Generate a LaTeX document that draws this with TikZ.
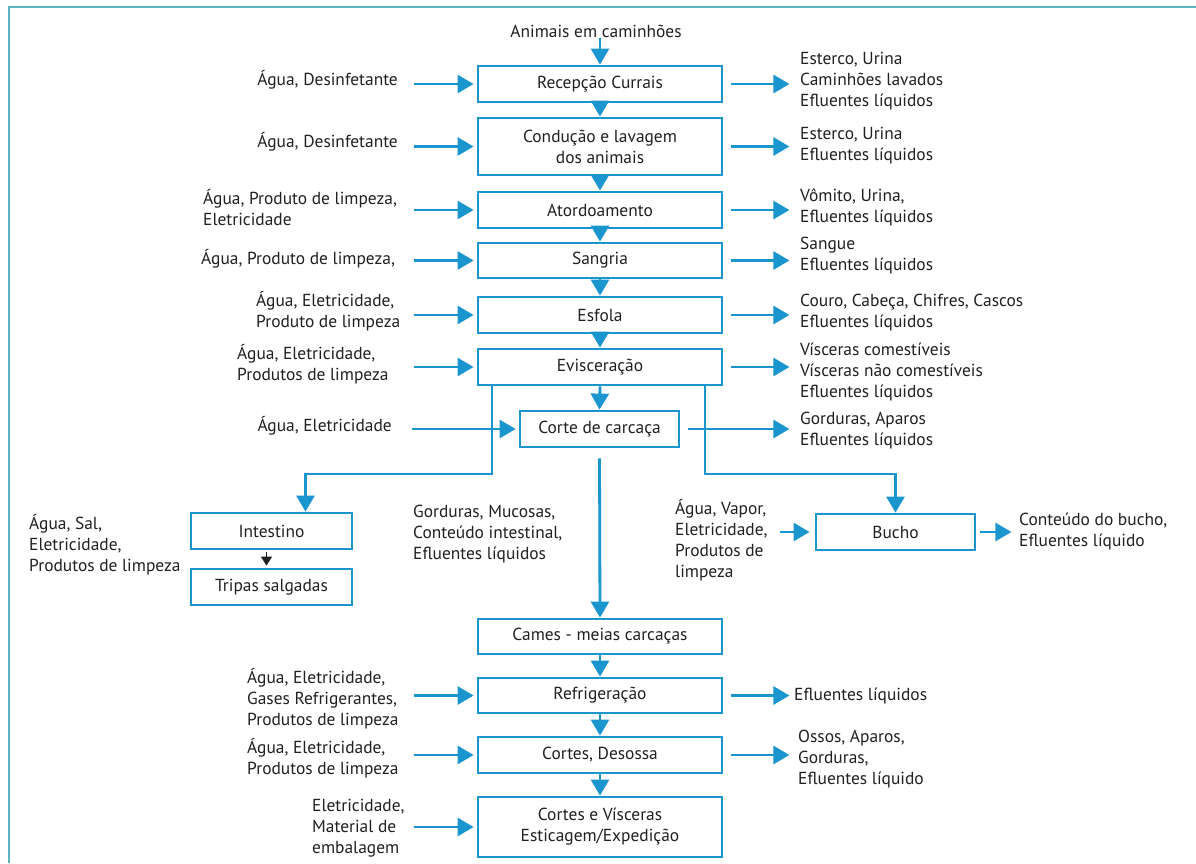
\documentclass[tikz,border=0pt]{standalone}
\usepackage{fontspec}
\setmainfont{PT Sans}
\usetikzlibrary{arrows.meta}
\definecolor{flow}{HTML}{1A95CE}
\definecolor{framecol}{HTML}{5AB4C0}
\definecolor{ink}{HTML}{231F20}

\begin{document}
\begin{tikzpicture}[x=1pt,y=-1pt,
  every node/.style={font=\fontsize{17.4}{21}\selectfont, text=ink, inner sep=0pt},
  proc/.style={draw=flow, line width=2.8pt, minimum width=244pt, minimum height=36pt, align=center},
  txt/.style={align=left},
  flowarr/.style={draw=flow, line width=2.8pt, -{Triangle[length=16pt,width=18pt]}},
  tinyarr/.style={draw=ink, line width=1.6pt, -{Triangle[length=9pt,width=11pt]}},
]
\useasboundingbox (0,0) rectangle (1196,863);

% outer frame (open to the right and bottom)
\draw[framecol, line width=1.4pt] (9,863) -- (9,7) -- (1196,7);

% process boxes
\node (src) at (596,31) {Animais em caminhões};
\node[proc] (rec) at (600,84) {Recepção Currais};
\node[proc, minimum height=57pt] (cond) at (600,146.5) {Condução e lavagem\\dos animais};
\node[proc] (ator) at (600,210) {Atordoamento};
\node[proc, minimum height=35pt] (sang) at (600,260.5) {Sangria};
\node[proc] (esf) at (600,315) {Esfola};
\node[proc] (evis) at (600,367) {Evisceração};
\node[proc, minimum width=159pt] (corte) at (599.5,429) {Corte de carcaça};
\node[proc, minimum width=161pt] (intest) at (271.5,531) {Intestino};
\node[proc, minimum width=161pt] (tripas) at (271.5,587) {Tripas salgadas};
\node[proc, minimum width=159pt] (bucho) at (895.5,532) {Bucho};
\node[proc, minimum height=35pt] (carnes) at (600,636.5) {Cames - meias carcaças};
\node[proc, minimum height=35pt] (refri) at (600,695.5) {Refrigeração};
\node[proc] (desossa) at (600,755) {Cortes, Desossa};
\node[proc, minimum height=60pt] (exped) at (600,827) {Cortes e Vísceras\\Esticagem/Expedição};

% main flow
\draw[flowarr] (src.south -| rec.north) -- (rec.north);
\foreach \a/\b in {rec/cond, cond/ator, ator/sang, sang/esf, esf/evis, evis/corte, carnes/refri, refri/desossa, desossa/exped}
  \draw[flowarr] (\a.south) -- (\b.north);
\draw[flowarr] ([yshift=-10pt]corte.south) -- (carnes.north);

% side branches from evisceration
\coordinate (jl) at (492,474);
\coordinate (jr) at (705,474);
\draw[flowarr] (evis.south -| jl) -- (jl) -| ([xshift=34pt]intest.north);
\draw[flowarr] (evis.south -| jr) -- (jr) -| (bucho.north);
\draw[tinyarr, shorten <=2pt, shorten >=2pt] ([xshift=-5pt]intest.south) -- ([xshift=-5pt]tripas.north);

% inputs
\foreach \b in {rec,cond,ator,sang,esf,evis,refri,desossa,exped}
  \draw[flowarr] ([xshift=-63pt]\b.west) -- ([xshift=-3pt]\b.west);
\draw[flowarr] ([xshift=-107pt]corte.west) -- ([xshift=-3pt]corte.west);
\draw[flowarr] ([xshift=-35pt]bucho.west) -- ([xshift=-5pt]bucho.west);

% outputs
\foreach \b in {rec,cond,ator,sang,esf,evis,refri,desossa}
  \draw[flowarr] ([xshift=8pt]\b.east) -- ([xshift=66pt]\b.east);
\draw[flowarr] ([xshift=8pt]corte.east) -- ([xshift=109pt]corte.east);
\draw[flowarr] ([xshift=4pt]bucho.east) -- ([xshift=35pt]bucho.east);

% input labels
\node[anchor=east] (i1) at (398,80) {Água, Desinfetante};
\node[anchor=east] (i2) at (398,142) {Água, Desinfetante};
\node[txt, anchor=west] (i3) at (203,207.5) {Água, Produto de limpeza,\\Eletricidade};
\node[anchor=west] (i4) at (201,259) {Água, Produto de limpeza,};
\node[txt, anchor=west] (i5) at (256,311) {Água, Eletricidade,\\Produto de limpeza};
\node[txt, anchor=west] (i6) at (237,364) {Água, Eletricidade,\\Produtos de limpeza};
\node[anchor=east] (i7) at (392,426) {Água, Eletricidade};
\node[txt, anchor=west] (i8) at (29,544.5) {Água, Sal,\\Eletricidade,\\Produtos de limpeza};
\node[txt, anchor=west] (i9) at (675,540) {Água, Vapor,\\Eletricidade,\\Produtos de\\limpeza};
\node[txt, anchor=west] (i10) at (247,699) {Água, Eletricidade,\\Gases Refrigerantes,\\Produtos de limpeza};
\node[txt, anchor=west] (i11) at (247,758) {Água, Eletricidade,\\Produtos de limpeza};
\node[txt, anchor=west] (i12) at (312,828) {Eletricidade,\\Material de\\embalagem};

% output labels
\node[txt, anchor=west] (o1) at (800,81.5) {Esterco, Urina\\Caminhões lavados\\Efluentes líquidos};
\node[txt, anchor=west] (o2) at (800,145.5) {Esterco, Urina\\Efluentes líquidos};
\node[txt, anchor=west] (o3) at (800,207.5) {Vômito, Urina,\\Efluentes líquidos};
\node[txt, anchor=west] (o4) at (800,256) {Sangue\\Efluentes líquidos};
\node[txt, anchor=west] (o5) at (800,313) {Couro, Cabeça, Chifres, Cascos\\Efluentes líquidos};
\node[txt, anchor=west] (o6) at (800,371.5) {Vísceras comestíveis\\Vísceras não comestíveis\\Efluentes líquidos};
\node[txt, anchor=west] (o7) at (800,431) {Gorduras, Aparos\\Efluentes líquidos};
\node[txt, anchor=west] (o8) at (413,534) {Gorduras, Mucosas,\\Conteúdo intestinal,\\Efluentes líquidos};
\node[txt, anchor=west] (o9) at (1019,531) {Conteúdo do bucho,\\Efluentes líquido};
\node[anchor=west] (o10) at (794,696) {Efluentes líquidos};
\node[txt, anchor=west] (o11) at (798,759) {Ossos, Aparos,\\Gorduras,\\Efluentes líquido};
\end{tikzpicture}
\end{document}
